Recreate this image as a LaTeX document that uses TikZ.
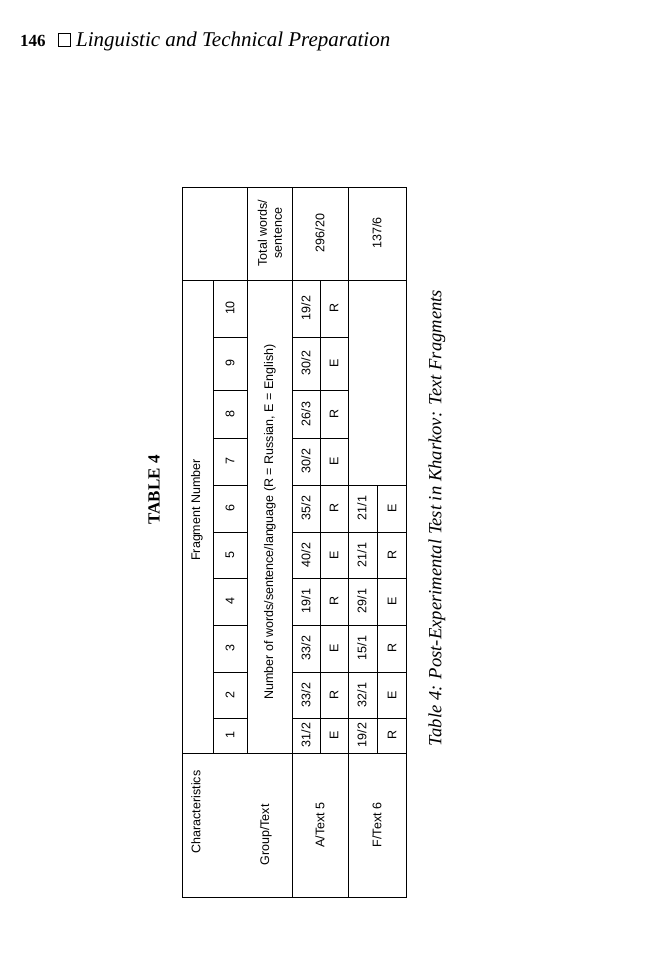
\documentclass[tikz,border=0pt]{standalone}
\usepackage{fontspec}
\setmainfont{Liberation Serif}
\setsansfont{Liberation Sans}
\begin{document}
\begin{tikzpicture}[x=1pt,y=-1pt,
  cell/.style={rotate=90,font=\sffamily\fontsize{12.5}{15}\selectfont,inner sep=0pt,align=center},
  rule/.style={line width=0.8pt}]
\useasboundingbox[fill=white] (0,0) rectangle (650,974);
% running head
\node[anchor=base west,inner sep=0pt,font=\bfseries\fontsize{17}{19}\selectfont] (pg) at (20,47) {146};
\draw[line width=0.6pt] (58,33) rectangle (70,46);
\node[anchor=base west,inner sep=0pt,font=\itshape\fontsize{21}{24}\selectfont] (rh) at (76,47) {Linguistic and Technical Preparation};
% title
\node[rotate=90,font=\bfseries\fontsize{17}{19}\selectfont] (title) at (154,490) {TABLE 4};
% caption
\node[rotate=90,font=\itshape\fontsize{18.6}{21}\selectfont] (cap) at (437,518) {Table 4: Post-Experimental Test in Kharkov: Text Fragments};
% table lines
\draw[rule] (182,187) rectangle (406,897);
\draw[rule] (182,280) -- (406,280);
\draw[rule] (182,753) -- (406,753);
\draw[rule] (213,280) -- (213,753);
\draw[rule] (247,187) -- (247,753);
\draw[rule] (292,187) -- (292,897);
\draw[rule] (348,187) -- (348,897);
\draw[rule] (320,280) -- (320,753);
\draw[rule] (377,485) -- (377,753);
\foreach \y in {337,390,438,485,532,578,625,672,718}{
  \draw[rule] (213,\y) -- (247,\y);
  \draw[rule] (292,\y) -- (348,\y);
}
\foreach \y in {485,532,578,625,672,718}{
  \draw[rule] (348,\y) -- (406,\y);
}
% headers
\node[cell] (fn) at (197,510) {Fragment Number};
\node[cell] (nw) at (270,522) {Number of words/sentence/language (R = Russian, E = English)};
\node[cell] (tw) at (270,233) {Total words/\\sentence};
\node[cell] (ch) at (196,812) {Characteristics};
\node[cell] (gt) at (266,835) {Group/Text};
\node[cell] (at) at (320,825) {A/Text 5};
\node[cell] (ft) at (377,825) {F/Text 6};
\node[cell] (ta) at (320,233) {296/20};
\node[cell] (tf) at (377,233) {137/6};
% fragment numbers and data
\foreach \n/\y/\an/\al in {10/308/19\slash2/R, 9/363/30\slash2/E, 8/414/26\slash3/R, 7/461/30\slash2/E,
  6/508/35\slash2/R, 5/555/40\slash2/E, 4/601/19\slash1/R, 3/648/33\slash2/E, 2/695/33\slash2/R, 1/735/31\slash2/E}{
  \node[cell] (n\n) at (230,\y) {\n};
  \node[cell] (a\n) at (306,\y) {\an};
  \node[cell] (l\n) at (334,\y) {\al};
}
\foreach \n/\y/\fn/\fl in {6/508/21\slash1/E, 5/555/21\slash1/R, 4/601/29\slash1/E, 3/648/15\slash1/R, 2/695/32\slash1/E, 1/735/19\slash2/R}{
  \node[cell] (f\n) at (362,\y) {\fn};
  \node[cell] (g\n) at (392,\y) {\fl};
}
\end{tikzpicture}
\end{document}
